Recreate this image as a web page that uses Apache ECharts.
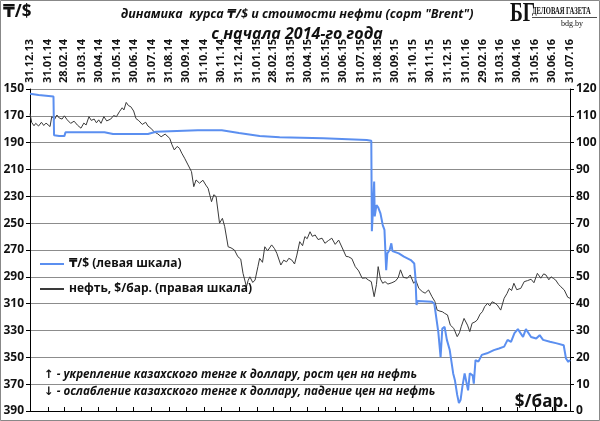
<!DOCTYPE html>
<html><head><meta charset="utf-8">
<script src="https://cdn.jsdelivr.net/npm/echarts@6/dist/echarts.min.js"></script>
<style>html,body{margin:0;padding:0;background:#fff}#c{width:600px;height:421px}</style>
</head><body><div id="c"></div>
<script>
const tickLabels = ['31.12.13','31.01.14','28.02.14','31.03.14','30.04.14','31.05.14','30.06.14','31.07.14','31.08.14','30.09.14','31.10.14','30.11.14','31.12.14','31.01.15','28.02.15','31.03.15','30.04.15','31.05.15','30.06.15','31.07.15','31.08.15','30.09.15','31.10.15','30.11.15','31.12.15','31.01.16','29.02.16','31.03.16','30.04.16','31.05.16','30.06.16','31.07.16'];

const tengeDates = ['2013-12-31','2014-01-15','2014-02-10','2014-02-11','2014-02-20','2014-03-01','2014-03-03','2014-05-10','2014-05-25','2014-07-25','2014-08-08','2014-10-20','2014-12-01','2014-12-31','2015-02-05','2015-03-12','2015-05-27','2015-08-11','2015-08-19','2015-08-20','2015-08-21','2015-08-24','2015-08-25','2015-08-28','2015-08-31','2015-09-04','2015-09-08','2015-09-11','2015-09-14','2015-09-16','2015-09-20','2015-09-23','2015-09-25','2015-10-06','2015-10-15','2015-10-27','2015-11-02','2015-11-04','2015-11-06','2015-11-08','2015-12-03','2015-12-07','2015-12-09','2015-12-14','2015-12-18','2015-12-21','2015-12-25','2015-12-29','2016-01-03','2016-01-09','2016-01-12','2016-01-16','2016-01-19','2016-01-22','2016-01-25','2016-01-29','2016-02-01','2016-02-04','2016-02-07','2016-02-12','2016-02-14','2016-02-17','2016-02-22','2016-02-28','2016-03-08','2016-03-20','2016-03-29','2016-04-07','2016-04-13','2016-04-19','2016-04-25','2016-05-01','2016-05-10','2016-05-15','2016-05-24','2016-06-02','2016-06-08','2016-06-14','2016-06-26','2016-07-08','2016-07-20','2016-07-24','2016-07-28','2016-07-31'];
const tengeValues = [153.6,154.5,155.6,184.5,185,185.1,182.3,182.2,183.6,183.6,181.9,180.8,180.8,182.8,185,186,186.8,188,188.5,256,248,219,245,236.5,238.2,242.7,251.4,255,285,272.5,270,265,270.8,272.5,275,277.5,280,290,311,308,308.6,310,316,331,349.8,328.5,327.3,337,344.6,362,367,378,384,381.6,372,362,363.4,374.6,362,363.4,369.6,352,353.2,348.2,347,344.6,343.4,342,337,338.5,332,329,334.8,329,334.8,336,333.5,337,338.4,339.6,341,350.9,353.4,352];

const oilDates = ['2013-12-31','2014-01-03','2014-01-07','2014-01-10','2014-01-15','2014-01-20','2014-01-24','2014-01-28','2014-02-04','2014-02-07','2014-02-12','2014-02-16','2014-02-20','2014-02-25','2014-03-01','2014-03-06','2014-03-12','2014-03-18','2014-03-24','2014-03-30','2014-04-04','2014-04-08','2014-04-13','2014-04-17','2014-04-22','2014-04-26','2014-04-30','2014-05-04','2014-05-09','2014-05-14','2014-05-21','2014-05-26','2014-05-31','2014-06-05','2014-06-10','2014-06-13','2014-06-17','2014-06-21','2014-06-25','2014-06-30','2014-07-04','2014-07-09','2014-07-15','2014-07-21','2014-07-25','2014-07-30','2014-08-05','2014-08-11','2014-08-17','2014-08-24','2014-09-01','2014-09-05','2014-09-09','2014-09-14','2014-09-18','2014-09-22','2014-09-27','2014-10-03','2014-10-09','2014-10-13','2014-10-17','2014-10-23','2014-10-29','2014-11-03','2014-11-07','2014-11-13','2014-11-17','2014-11-21','2014-11-27','2014-12-02','2014-12-06','2014-12-12','2014-12-17','2014-12-23','2014-12-29','2015-01-03','2015-01-07','2015-01-13','2015-01-16','2015-01-19','2015-01-24','2015-01-28','2015-02-02','2015-02-05','2015-02-10','2015-02-14','2015-02-19','2015-02-26','2015-03-03','2015-03-07','2015-03-14','2015-03-19','2015-03-24','2015-03-28','2015-04-02','2015-04-07','2015-04-11','2015-04-16','2015-04-21','2015-04-25','2015-04-29','2015-05-04','2015-05-08','2015-05-13','2015-05-18','2015-05-25','2015-05-30','2015-06-05','2015-06-11','2015-06-17','2015-06-23','2015-07-01','2015-07-06','2015-07-10','2015-07-16','2015-07-22','2015-07-28','2015-08-03','2015-08-09','2015-08-14','2015-08-19','2015-08-24','2015-08-28','2015-08-31','2015-09-04','2015-09-08','2015-09-12','2015-09-17','2015-09-24','2015-09-30','2015-10-05','2015-10-09','2015-10-14','2015-10-21','2015-10-26','2015-11-01','2015-11-05','2015-11-10','2015-11-16','2015-11-21','2015-11-27','2015-12-03','2015-12-08','2015-12-12','2015-12-17','2015-12-21','2015-12-25','2015-12-30','2016-01-04','2016-01-10','2016-01-16','2016-01-20','2016-01-23','2016-01-28','2016-02-03','2016-02-07','2016-02-11','2016-02-16','2016-02-20','2016-02-25','2016-02-29','2016-03-04','2016-03-09','2016-03-13','2016-03-17','2016-03-22','2016-03-26','2016-04-01','2016-04-07','2016-04-12','2016-04-16','2016-04-20','2016-04-24','2016-04-29','2016-05-06','2016-05-12','2016-05-18','2016-05-24','2016-05-29','2016-06-04','2016-06-10','2016-06-15','2016-06-19','2016-06-24','2016-06-28','2016-07-02','2016-07-06','2016-07-11','2016-07-15','2016-07-21','2016-07-27','2016-07-31'];
const oilValues = [110.8,107.5,106.3,107.2,106.2,107.6,106.4,107.3,106,109.7,108.7,110.3,109.2,108.8,110,108.5,107.2,108,106.5,105.4,107.3,106.6,109.7,108.3,108.8,107.4,108.5,107.2,109.7,108.1,108.8,110.1,109.7,111.5,113,112.2,115,113.8,113.4,111.8,109,108.2,106.8,107.6,106.2,105.4,104,103.3,102.2,103.2,101.6,99.2,97.3,98.6,97.9,96.1,94.2,91.7,89.2,83.6,86.1,84.9,86,84.2,83,78,80.6,79.9,70,71.8,68.7,61.2,60.8,60,57.5,56.6,51.3,46.3,48.7,50,47.9,48.8,53.8,56.9,55.4,61.2,59.7,61.9,60.5,58.8,54.4,56.2,55.6,56.9,56.3,54.8,58.1,63.1,61.6,65,64.2,66.8,65.1,65.6,63.9,64.4,62.5,63.5,64.4,62.1,63.7,60,57.6,57.5,56.8,53.8,52.2,49.5,49.6,48.8,48.2,42.6,47.1,53.8,49.2,47.6,48.2,47.3,47.8,48.4,49.7,52.6,49.8,49.5,50.7,47.6,48.6,45.7,44.5,43.9,45.1,42.6,40.8,37.6,37.2,37,36.4,35.8,32,30.8,27.7,29.2,31.4,34.5,32,29.6,32.7,33.2,33.9,36.1,37,38.9,40.1,39.2,40.7,40.2,39.5,37.6,42,43.8,45.7,44.9,47.6,45.2,45.7,48.2,48.6,49.1,47.8,51.3,49.5,51.1,50.7,48.9,50,49.4,48.8,47.2,46.3,45.1,42.4,42];

function ts(s){ const p=s.split('-').map(Number); return Date.UTC(p[0],p[1]-1,p[2]); }
function tickTs(s){ const p=s.split('.').map(Number); return Date.UTC(2000+p[2],p[1]-1,p[0]); }
const tickValues = tickLabels.map(tickTs);
const labelByTs = {}; tickValues.forEach((v,i)=>{labelByTs[v]=tickLabels[i];});
const tengeData = tengeDates.map((d,i)=>[ts(d),tengeValues[i]]);
const oilData = oilDates.map((d,i)=>[ts(d),oilValues[i]]);

const F = '"Open Sans","DejaVu Sans",sans-serif';
const S = '"Liberation Serif","DejaVu Serif",serif';
const chart = echarts.init(document.getElementById('c'));
chart.setOption({
  animation:false,
  backgroundColor:'#fff',
  grid:{left:30,right:30,top:89,bottom:10,containLabel:false},
  title:[
    {text:'динамика  курса ₸/$ и стоимости нефти (сорт "Brent")',left:292,textAlign:'center',top:3,
     textStyle:{fontFamily:F,fontStyle:'italic',fontWeight:'bold',fontSize:12.5,color:'#111'}},
    {text:'с начала 2014-го года',left:292,textAlign:'center',top:21,
     textStyle:{fontFamily:F,fontStyle:'italic',fontWeight:'bold',fontSize:16,color:'#111'}}
  ],
  legend:{orient:'vertical',left:34,top:253,itemGap:13,itemWidth:24,itemHeight:10,
    itemStyle:{opacity:0},
    data:['₸/$ (левая шкала)','нефть, $/бар. (правая шкала)'],
    textStyle:{fontFamily:F,fontWeight:'bold',fontSize:12,color:'#111'}},
  xAxis:{type:'value',position:'top',min:tickValues[0],max:tickValues[tickValues.length-1],
    axisLine:{show:true,lineStyle:{color:'#000',width:1}},
    axisTick:{show:true,length:4,inside:false,customValues:tickValues,lineStyle:{color:'#000'}},
    axisLabel:{customValues:tickValues,rotate:90,margin:6,fontFamily:F,fontWeight:'bold',fontSize:11,color:'#111',
      formatter:function(v){return labelByTs[v]||'';}},
    splitLine:{show:false}},
  yAxis:[
    {type:'value',inverse:true,min:150,max:390,interval:20,position:'left',
     axisLine:{show:true,lineStyle:{color:'#000'}},axisTick:{show:true,length:4,lineStyle:{color:'#000'}},
     axisLabel:{fontFamily:F,fontWeight:'bold',fontSize:12,color:'#111',margin:6},
     splitLine:{show:true,lineStyle:{color:'#8c8c8c',width:1}}},
    {type:'value',min:0,max:120,interval:10,position:'right',
     axisLine:{show:true,lineStyle:{color:'#000'}},axisTick:{show:true,length:4,lineStyle:{color:'#000'}},
     axisLabel:{fontFamily:F,fontWeight:'bold',fontSize:12,color:'#111',margin:6},
     splitLine:{show:false}}
  ],
  series:[
    {name:'нефть, $/бар. (правая шкала)',type:'line',yAxisIndex:1,data:oilData,symbol:'none',
     lineStyle:{color:'#3a3a3a',width:1},itemStyle:{color:'#3a3a3a'},z:2},
    {name:'₸/$ (левая шкала)',type:'line',yAxisIndex:0,data:tengeData,symbol:'none',
     lineStyle:{color:'#5b8ff0',width:2},itemStyle:{color:'#5b8ff0'},z:3}
  ],
  graphic:[
    {type:'rect',shape:{x:0.5,y:0.5,width:599,height:420},style:{fill:null,stroke:'#888',lineWidth:1},silent:true},
    {type:'text',left:3,top:4,style:{text:'₸/$',font:'bold 17px '+F,fill:'#111'}},
    {type:'text',right:32,top:394,style:{text:'$/бар.',font:'bold 17px '+F,fill:'#111'}},
    {type:'text',left:44,top:369,style:{text:'↑ - укрепление казахского тенге к доллару, рост цен на нефть',font:'italic bold 11.6px '+F,fill:'#111'}},
    {type:'text',left:44,top:386,style:{text:'↓ - ослабление казахского тенге к доллару, падение цен на нефть',font:'italic bold 11.6px '+F,fill:'#111'}},
    {type:'text',x:510,y:1,scaleX:0.72,style:{text:'БГ',font:'bold 27px '+S,fill:'#111'}},
    {type:'text',x:532,y:6,scaleX:0.66,style:{text:'ДЕЛОВАЯ ГАЗЕТА',font:'bold 10px '+S,fill:'#111'}},
    {type:'rect',shape:{x:532,y:17,width:65,height:0.8},style:{fill:'#111'}},
    {type:'text',x:561,y:20,style:{text:'bdg.by',font:'8px '+S,fill:'#111'}}
  ]
});
</script></body></html>
